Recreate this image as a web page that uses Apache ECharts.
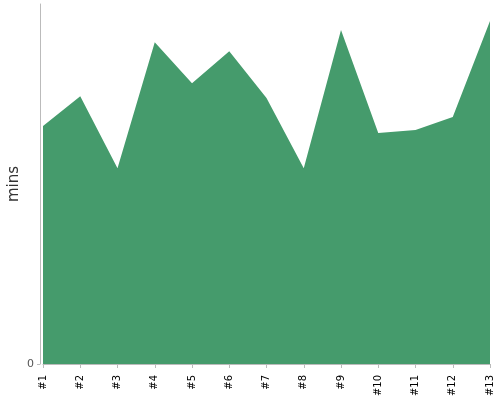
<!DOCTYPE html>
<html lang="en">
<head>
    <meta charset="UTF-8">
    <title>mins chart</title>
    <style>
        html, body { margin: 0; padding: 0; background: #fff; }
        #main { width: 500px; height: 400px; }
    </style>
</head>
<body>
<div id="main"></div>
<script src="https://cdn.jsdelivr.net/npm/echarts@6/dist/echarts.min.js"></script>
<script>
    // runs #1..#13 and their durations in minutes
    var runs = ['#1', '#2', '#3', '#4', '#5', '#6', '#7', '#8', '#9', '#10', '#11', '#12', '#13'];
    var mins = [66.1, 74.4, 54.4, 89.4, 78.0, 86.9, 73.9, 54.4, 92.8, 64.2, 65.0, 68.6, 95.3];
    var yTicks = [0];
    var yMax = 100;

    var myChart = echarts.init(document.getElementById('main'));
    var option = {
        animation: false,
        grid: { left: 43, right: 10, top: 4, bottom: 36, containLabel: false, outerBoundsMode: 'none' },
        xAxis: {
            type: 'category',
            data: runs,
            boundaryGap: false,
            offset: 5,
            axisLine: { lineStyle: { color: '#bbb' } },
            axisTick: { alignWithLabel: true, length: 4, lineStyle: { color: '#bbb' } },
            axisLabel: {
                rotate: 90, interval: 0, margin: 6,
                fontSize: 10, color: '#000', fontFamily: 'DejaVu Sans'
            }
        },
        yAxis: {
            type: 'value',
            min: 0,
            max: yMax,
            offset: 3,
            name: 'mins',
            nameLocation: 'middle',
            nameGap: 18,
            nameMoveOverlap: false,
            nameTextStyle: { fontSize: 15, color: '#333', fontFamily: 'DejaVu Sans' },
            axisLine: { show: true, lineStyle: { color: '#bbb' } },
            axisTick: { show: true, length: 3, customValues: yTicks, lineStyle: { color: '#bbb' } },
            splitLine: { show: false },
            axisLabel: {
                color: '#555', fontSize: 11, margin: 6, fontFamily: 'DejaVu Sans',
                customValues: yTicks
            }
        },
        series: [{
            type: 'line',
            data: mins,
            symbol: 'none',
            lineStyle: { width: 0 },
            itemStyle: { color: '#459b6c' },
            areaStyle: { color: '#459b6c', opacity: 1 }
        }]
    };
    myChart.setOption(option);
</script>
</body>
</html>
